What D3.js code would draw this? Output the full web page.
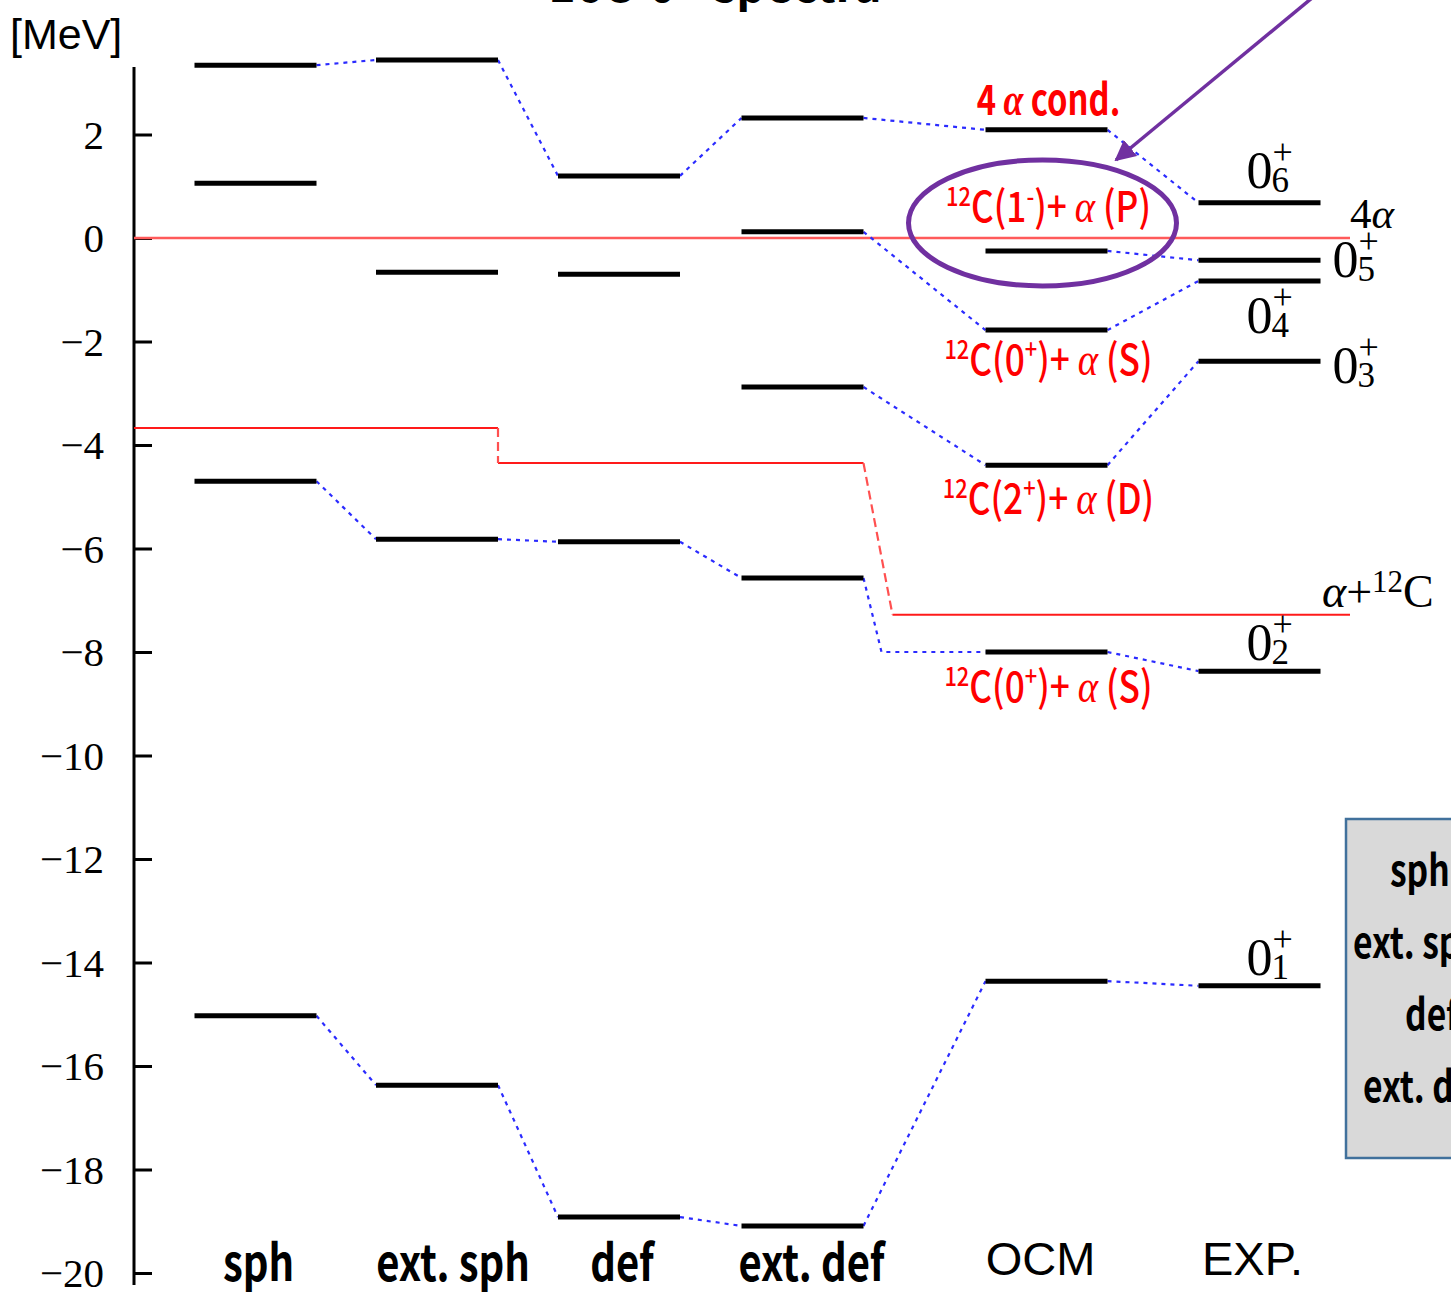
<!DOCTYPE html>
<html>
<head>
<meta charset="utf-8">
<script src="https://cdn.jsdelivr.net/npm/d3@7"></script>
<style>
  html, body { margin: 0; padding: 0; background: #fff; }
  svg { display: block; }
</style>
</head>
<body>
<svg id="chart" width="1451" height="1292"></svg>
<script>
// ---- data -------------------------------------------------------------
const models = ["sph", "ext. sph", "def", "ext. def", "OCM", "EXP."];

// 0+ level energies (MeV, measured from the 4α threshold)
const levelsSph    = [3.34, 1.06, -4.70, -15.03];
const levelsExtSph = [3.44, -0.66, -5.82, -16.37];
const levelsDef    = [1.20, -0.70, -5.87, -18.92];
const levelsExtDef = [2.32, 0.12, -2.88, -6.57, -19.09];
const levelsOcm    = [2.09, -0.25, -1.78, -4.39, -8.00, -14.36];
const levelsExp    = [0.68, -0.43, -0.83, -2.38, -8.37, -14.45];
const levelSets = [levelsSph, levelsExtSph, levelsDef, levelsExtDef, levelsOcm, levelsExp];

// correspondences: [fromModel, fromLevel, toModel, toLevel, elbow]
const links = [
  [0, 0, 1, 0], [1, 0, 2, 0], [2, 0, 3, 0], [3, 0, 4, 0], [4, 0, 5, 0],
  [3, 1, 4, 2], [4, 2, 5, 2], [4, 1, 5, 1],
  [3, 2, 4, 3], [4, 3, 5, 3],
  [0, 2, 1, 2], [1, 2, 2, 2], [2, 2, 3, 3], [3, 3, 4, 4, true], [4, 4, 5, 4],
  [0, 3, 1, 3], [1, 3, 2, 3], [2, 3, 3, 4], [3, 4, 4, 5], [4, 5, 5, 5]
];

// α + 12C threshold in each model (MeV)
const thresholds = [-3.67, -3.67, -4.35, -4.35, -7.28, -7.28];

// experimental spin labels: [level index, subscript]
const expLabels = [[0, "6"], [1, "5"], [2, "4"], [3, "3"], [4, "2"], [5, "1"]];

// OCM channel labels: [level index, pieces]
const ocmLabels = [
  [0, [["4 ", "n"], ["α", "a"], [" cond.", "n"]]],
  [1, [["12", "sup"], ["C(1", "n"], ["-", "sup"], [")+ ", "n"], ["α", "a"], [" (P)", "n"]]],
  [2, [["12", "sup"], ["C(0", "n"], ["+", "sup"], [")+ ", "n"], ["α", "a"], [" (S)", "n"]]],
  [3, [["12", "sup"], ["C(2", "n"], ["+", "sup"], [")+ ", "n"], ["α", "a"], [" (D)", "n"]]],
  [4, [["12", "sup"], ["C(0", "n"], ["+", "sup"], [")+ ", "n"], ["α", "a"], [" (S)", "n"]]]
];

const yTicks = d3.range(2, -21, -2);
const legendEntries = ["sph", "ext. sph", "def", "ext. def"];

// ---- layout -----------------------------------------------------------
const svg = d3.select("#chart");
const y = d3.scaleLinear().domain([0, -20]).range([238, 1273]);
const x = d3.scaleOrdinal().domain(models).range([255.5, 437, 619, 802.5, 1046.5, 1259.5]);
const barW = 122;
const axisX = 134;
const left = m => x(models[m]) - barW / 2;
const right = m => x(models[m]) + barW / 2;

const serif = "'Liberation Serif', 'DejaVu Serif', serif";
const sans = "'Liberation Sans', Arial, sans-serif";
const cjk = "'Noto Sans CJK JP', 'Noto Sans', sans-serif";

// title (runs off the top edge)
svg.append("text")
  .attr("x", 715).attr("y", 2)
  .attr("text-anchor", "middle")
  .attr("font-family", cjk).attr("font-weight", 700).attr("font-size", 46)
  .text("16O 0+ spectra");

// ---- axis -------------------------------------------------------------
const axis = d3.axisRight(y).tickValues(yTicks).tickSize(18).tickFormat("");
const axG = svg.append("g").attr("transform", `translate(${axisX},0)`).call(axis);
axG.select(".domain").attr("d", `M0,67V1285`).attr("stroke", "#000").attr("stroke-width", 3);
axG.selectAll(".tick line").attr("stroke", "#000").attr("stroke-width", 3);

svg.append("g").selectAll("text").data(yTicks).join("text")
  .attr("x", 104).attr("y", d => y(d) + 14)
  .attr("text-anchor", "end")
  .attr("font-family", serif).attr("font-size", 41)
  .text(d => d < 0 ? "\u2212" + Math.abs(d) : d);

svg.append("text").attr("x", 10).attr("y", 49)
  .attr("font-family", sans).attr("font-size", 43)
  .text("[MeV]");

// ---- threshold lines -------------------------------------------------
svg.append("line")
  .attr("x1", axisX).attr("x2", 1350).attr("y1", y(0)).attr("y2", y(0))
  .attr("stroke", "#ff5a5a").attr("stroke-width", 2.5);

const tSolid = [
  [axisX, right(1), thresholds[0]],
  [right(1), right(3), thresholds[2]],
  [right(3) + 29, 1350, thresholds[4]]
];
svg.append("g").selectAll("line").data(tSolid).join("line")
  .attr("x1", d => d[0]).attr("x2", d => d[1])
  .attr("y1", d => y(d[2])).attr("y2", d => y(d[2]))
  .attr("stroke", "#ff1a1a").attr("stroke-width", 2);
const tSteps = [
  [right(1), thresholds[1], right(1), thresholds[2]],
  [right(3), thresholds[3], right(3) + 29, thresholds[4]]
];
svg.append("g").selectAll("line").data(tSteps).join("line")
  .attr("x1", d => d[0]).attr("y1", d => y(d[1]))
  .attr("x2", d => d[2]).attr("y2", d => y(d[3]))
  .attr("stroke", "#ff5050").attr("stroke-width", 2.2).attr("stroke-dasharray", "9,5");

// ---- correspondence lines --------------------------------------------
const linkPath = d => {
  const [a, i, b, j, elbow] = d;
  const p = d3.path();
  p.moveTo(right(a), y(levelSets[a][i]));
  if (elbow) p.lineTo(right(a) + 18, y(levelSets[b][j]));
  p.lineTo(left(b), y(levelSets[b][j]));
  return p.toString();
};
svg.append("g").selectAll("path").data(links).join("path")
  .attr("d", linkPath)
  .attr("fill", "none").attr("stroke", "#2b2bff").attr("stroke-width", 2.2)
  .attr("stroke-dasharray", "4,5");

// ---- levels ------------------------------------------------------------
const levelData = levelSets.flatMap((set, m) => set.map(v => ({ m, v })));
svg.append("g").selectAll("line").data(levelData).join("line")
  .attr("x1", d => left(d.m)).attr("x2", d => right(d.m))
  .attr("y1", d => y(d.v)).attr("y2", d => y(d.v))
  .attr("stroke", "#000").attr("stroke-width", 5);

// ---- model labels ----------------------------------------------------
const labelShift = [3, 16, 3, 9, -6, -7];
models.forEach((name, m) => {
  const bold = m < 4;
  svg.append("text")
    .attr("transform", `translate(${x(name) + labelShift[m]},${bold ? 1281 : 1275}) scale(${bold ? 0.8 : 1},1)`)
    .attr("text-anchor", "middle")
    .attr("font-family", bold ? cjk : sans)
    .attr("font-weight", bold ? 700 : 400)
    .attr("font-size", bold ? 50 : 47)
    .text(name);
});

// ---- OCM channel labels ---------------------------------------------
const ocmOffset = [-15, -29, 45, 49, 50];
ocmLabels.forEach(([idx, pieces], k) => {
  const t = svg.append("text")
    .attr("transform", `translate(${x("OCM") + 2},${y(levelsOcm[idx]) + ocmOffset[k]}) scale(${k === 0 ? 0.78 : 0.84},1)`)
    .attr("text-anchor", "middle")
    .attr("font-family", cjk).attr("font-size", 42)
    .attr("font-weight", k === 0 ? 700 : 500)
    .attr("fill", "#ff0000");
  let shift = 0;
  pieces.forEach(([s, kind]) => {
    const sp = t.append("tspan").text(s);
    if (kind === "sup") {
      sp.attr("font-size", 26).attr("dy", -16 - shift);
      shift = -16;
    } else {
      if (shift) sp.attr("dy", -shift);
      shift = 0;
      if (kind === "a") sp.attr("font-style", "italic").attr("font-family", serif).attr("font-size", 46);
    }
  });
});

// ---- emphasis: ellipse + arrow ------------------------------------
svg.append("ellipse")
  .attr("cx", x("OCM") - 4).attr("cy", y(levelsOcm[1]) - 28)
  .attr("rx", 134).attr("ry", 63)
  .attr("fill", "none").attr("stroke", "#7030a0").attr("stroke-width", 5);
svg.append("defs").append("marker")
  .attr("id", "head").attr("viewBox", "0 0 10 10")
  .attr("refX", 9).attr("refY", 5)
  .attr("markerWidth", 6).attr("markerHeight", 6)
  .attr("orient", "auto")
  .append("path").attr("d", "M0,0L10,5L0,10Z").attr("fill", "#7030a0");
svg.append("line")
  .attr("x1", 1312).attr("y1", -2).attr("x2", 1116).attr("y2", 160)
  .attr("stroke", "#7030a0").attr("stroke-width", 3.5)
  .attr("marker-end", "url(#head)");

// ---- experimental spin labels (0 with stacked + and index) ---------
// [dx from bar left, dy from level] for the "0" glyph baseline
const expPos = [[48, -15], [134, 17], [48, 52], [134, 22], [48, -11], [48, -11]];
expLabels.forEach(([idx, sub], k) => {
  const [dx, dy] = expPos[k];
  const x0 = left(5) + dx, y0 = y(levelsExp[idx]) + dy;
  const t = svg.append("text").attr("x", x0).attr("y", y0)
    .attr("font-family", serif).attr("font-size", 52);
  t.append("tspan").text("0");
  t.append("tspan").attr("font-size", 36).attr("dy", -24).text("+");
  t.append("tspan").attr("font-size", 35).attr("x", x0 + 25).attr("dy", 28).text(sub);
});

// threshold names
const t4a = svg.append("text").attr("x", 1350).attr("y", y(0) - 10)
  .attr("font-family", serif).attr("font-size", 43);
t4a.append("tspan").text("4");
t4a.append("tspan").attr("font-style", "italic").text("α");

const tac = svg.append("text").attr("x", 1322).attr("y", y(thresholds[5]) - 8)
  .attr("font-family", serif).attr("font-size", 46);
tac.append("tspan").attr("font-style", "italic").text("α");
tac.append("tspan").text("+");
tac.append("tspan").attr("font-size", 31).attr("dy", -15).text("12");
tac.append("tspan").attr("dy", 15).text("C");

// ---- legend box (runs off the right edge) ------------------------
svg.append("rect")
  .attr("x", 1346).attr("y", 819).attr("width", 200).attr("height", 339)
  .attr("fill", "#d9d9d9").attr("stroke", "#41719c").attr("stroke-width", 2.5);
const legendX = [1390, 1353, 1405, 1363];
legendEntries.forEach((s, i) => {
  svg.append("text")
    .attr("transform", `translate(${legendX[i]},${886 + i * 72}) scale(0.8,1)`)
    .attr("font-family", cjk).attr("font-weight", 700).attr("font-size", 42)
    .text(s);
});
</script>
</body>
</html>
